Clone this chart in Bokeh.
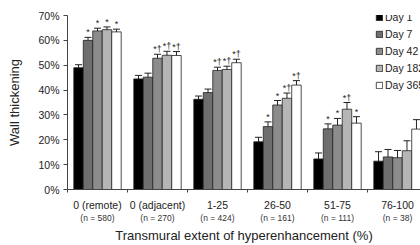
from bokeh.plotting import figure
from bokeh.models import (ColumnDataSource, Range1d, LinearAxis, FixedTicker,
                          PrintfTickFormatter, Whisker, TeeHead, Legend, LegendItem)
from bokeh.core.properties import value
from bokeh.embed import file_html
from bokeh.resources import INLINE

# ---------------- data ----------------
groups = ["0 (remote)", "0 (adjacent)", "1-25", "26-50", "51-75", "76-100"]
n_labels = ["(n = 580)", "(n = 270)", "(n = 424)", "(n = 161)", "(n = 111)", "(n = 38)"]
days = ["Day 1", "Day 7", "Day 42", "Day 182", "Day 365"]

day1 = [49.0, 44.5, 36.3, 19.2, 12.3, 11.4]
day7 = [60.0, 45.2, 39.0, 25.3, 24.4, 13.1]
day42 = [63.8, 52.8, 47.9, 34.0, 25.9, 12.8]
day182 = [64.3, 54.0, 48.3, 36.7, 32.3, 15.6]
day365 = [63.4, 53.9, 51.0, 42.0, 26.7, 24.3]

err1 = [1.2, 1.4, 1.3, 1.8, 2.4, 3.8]
err7 = [1.2, 1.6, 1.4, 1.9, 2.0, 3.0]
err42 = [1.1, 1.6, 1.3, 1.8, 2.7, 2.9]
err182 = [1.1, 1.6, 1.3, 2.1, 2.7, 4.0]
err365 = [1.1, 1.6, 1.4, 1.8, 2.6, 3.8]

sig1 = ["", "", "", "", "", ""]
sig7 = ["*", "", "", "*", "*", ""]
sig42 = ["*", "*\u2020", "*\u2020", "*", "*", ""]
sig182 = ["*", "*\u2020", "*\u2020", "*\u2020", "*\u2020", ""]
sig365 = ["*", "*\u2020", "*\u2020", "*\u2020", "*", ""]

y_ticks = [0, 10, 20, 30, 40, 50, 60, 70]

values = [day1, day7, day42, day182, day365]
errors = [err1, err7, err42, err182, err365]
sigs = [sig1, sig7, sig42, sig182, sig365]
colors = ["#000000", "#6e6e6e", "#8c8c8c", "#b5b5b5", "#ffffff"]

# ---------------- layout ----------------
FONT = "Liberation Sans"
TXT = "#222222"
W, H = 420, 245
LEFT, TOP, BOTTOM = 67, 15, 55
GROUP_PX = 60
BAR_W = 0.158
OFFSET = 0.105

x_end = (W - LEFT) / GROUP_PX

p = figure(width=W, height=H, output_backend="svg", toolbar_location=None,
           x_range=Range1d(0, x_end), y_range=Range1d(0, 70), x_axis_type=None,
           min_border_left=LEFT, min_border_right=0, min_border_top=TOP,
           min_border_bottom=BOTTOM)
p.outline_line_color = None
p.ygrid.grid_line_color = None
p.background_fill_color = "white"

renderers = []
for k in range(len(days)):
    xs = [i + OFFSET + (k + 0.5) * BAR_W for i in range(len(groups))]
    vals = values[k]
    errs = errors[k]
    src = ColumnDataSource(dict(
        x=xs, top=vals,
        upper=[v + e for v, e in zip(vals, errs)],
        lower=[v - e for v, e in zip(vals, errs)],
        sig=sigs[k]))
    r = p.vbar(x="x", top="top", bottom=0, width=BAR_W, source=src,
               fill_color=colors[k], line_color="#222222", line_width=0.8)
    renderers.append(r)
    wh = Whisker(source=src, base="x", upper="upper", lower="lower",
                 dimension="height", line_color="#222222", line_width=1,
                 upper_head=TeeHead(size=7, line_color="#222222", line_width=1),
                 lower_head=TeeHead(size=7, line_color="#222222", line_width=1))
    p.add_layout(wh)
    p.text(x="x", y="upper", text="sig", source=src, text_align="center",
           text_baseline="bottom", text_font=value(FONT), text_font_size="9px",
           text_color=TXT)

# y axis
ya = p.yaxis[0]
ya.ticker = FixedTicker(ticks=y_ticks)
ya.formatter = PrintfTickFormatter(format="%d%%")
ya.axis_line_color = "#444444"
ya.major_tick_line_color = "#444444"
ya.major_tick_out = 4
ya.major_tick_in = 0
ya.minor_tick_out = 0
ya.minor_tick_in = 0
ya.major_label_standoff = 4
ya.major_label_text_font = FONT
ya.major_label_text_font_size = "10.5px"
ya.major_label_text_color = TXT
ya.axis_label = "Wall thickening"
ya.axis_label_text_font = FONT
ya.axis_label_text_font_size = "13px"
ya.axis_label_text_font_style = "normal"
ya.axis_label_text_color = TXT
ya.axis_label_standoff = 13

centers = [i + 0.5 for i in range(len(groups))]
bounds = [float(i) for i in range(len(groups) + 1)]

ax1 = LinearAxis(ticker=FixedTicker(ticks=centers, minor_ticks=bounds),
                 major_label_overrides={c: g for c, g in zip(centers, groups)},
                 axis_line_color="#444444", major_tick_out=0, major_tick_in=0,
                 minor_tick_out=3, minor_tick_in=0, minor_tick_line_color="#444444",
                 major_label_standoff=6, major_label_text_font=FONT,
                 major_label_text_font_size="10.5px", major_label_text_color=TXT)
ax2 = LinearAxis(ticker=FixedTicker(ticks=centers, minor_ticks=[]),
                 major_label_overrides={c: n for c, n in zip(centers, n_labels)},
                 axis_line_color=None, major_tick_line_color=None,
                 minor_tick_line_color=None, major_tick_out=0, major_tick_in=0,
                 minor_tick_out=0, minor_tick_in=0,
                 major_label_standoff=-1, major_label_text_font=FONT,
                 major_label_text_font_size="8.5px", major_label_text_color="#333333",
                 axis_label="Transmural extent of hyperenhancement (%)",
                 axis_label_standoff=2, axis_label_text_font=FONT,
                 axis_label_text_font_size="13px", axis_label_text_font_style="normal",
                 axis_label_text_color=TXT)
p.add_layout(ax1, "below")
p.add_layout(ax2, "below")

legend = Legend(items=[LegendItem(label=d, renderers=[r]) for d, r in zip(days, renderers)],
                location=(308, 98), padding=0, margin=0, spacing=5,
                glyph_width=8, glyph_height=8, label_standoff=2, label_height=12,
                label_text_font=FONT, label_text_font_size="10.5px",
                label_text_color=TXT, border_line_color=None,
                background_fill_alpha=0)
p.add_layout(legend)

open("out.html", "w").write(file_html(p, INLINE))
